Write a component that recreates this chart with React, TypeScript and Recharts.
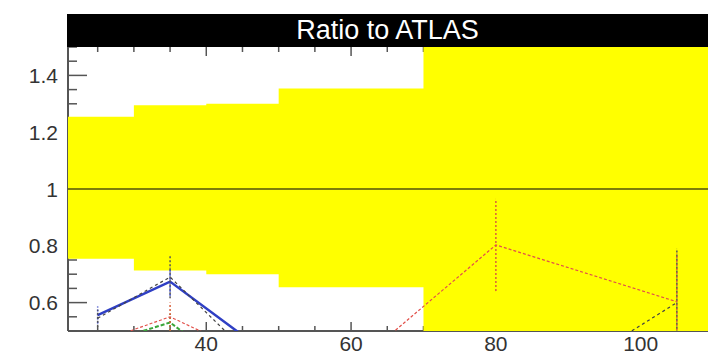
import React from 'react';
import { ComposedChart, Area, Line, XAxis, YAxis, ReferenceLine, ErrorBar } from 'recharts';

// ATLAS uncertainty band, one entry per bin
const binEdges = [20, 30, 40, 50, 70, 110];
const bandLow = [0.754, 0.713, 0.7, 0.654, 0.4];
const bandHigh = [1.254, 1.295, 1.3, 1.354, 1.6];

// model ratios at bin centres
const xPoints = [25, 35, 45, 60, 80, 105];
const blueValues = [0.556, 0.674, 0.485, 0.3, 0.2, 0.2];
const blueErrors = [0.03, 0.05, 0.01, 0.02, 0.02, 0.02];
const redValues = [0.46, 0.55, 0.43, 0.37, 0.803, 0.603];
const redErrors = [0.03, 0.05, 0.03, 0.03, 0.162, 0.17];
const greenValues = [0.45, 0.53, 0.34, 0.3, 0.3, 0.3];
const greenErrors = [0.02, 0.03, 0.02, 0.02, 0.02, 0.02];
const blackValues = [0.545, 0.69, 0.44, 0.25, 0.2, 0.6];
const blackErrors = [0.03, 0.075, 0.03, 0.03, 0.03, 0.19];

const xTicks = [25, 30, 35, 40, 45, 50, 55, 60, 65, 70, 75, 80, 85, 90, 95, 100, 105];
const yTicks = [0.5, 0.55, 0.6, 0.65, 0.7, 0.75, 0.8, 0.85, 0.9, 0.95, 1, 1.05, 1.1, 1.15, 1.2, 1.25, 1.3, 1.35, 1.4, 1.45, 1.5];
const xDomain = [20.9, 109.3];
const yDomain = [0.5, 1.5];

const W = 727;
const H = 356;
const PLOT_TOP = 47;
const PLOT_LEFT = 68;
const PLOT_RIGHT = 708;
const PLOT_BOTTOM = 331;
const FONT = '"Liberation Sans", Arial, Helvetica, sans-serif';

const bandData = binEdges.map((x, i) => {
  const j = Math.min(i, bandLow.length - 1);
  return { x, band: [bandLow[j], bandHigh[j]] };
});

const series = (vals: number[], errs: number[]) =>
  xPoints.map((x, i) => ({ x, y: vals[i], err: errs[i] }));

const XTick = (props: any) => {
  const { x, y, payload } = props;
  const v = payload.value;
  const major = v % 20 === 0;
  const len = major ? 9 : 5;
  return (
    <g>
      <line x1={x} y1={y} x2={x} y2={y - len} stroke="#555" strokeWidth={1.5} />
      <line x1={x} y1={PLOT_TOP} x2={x} y2={PLOT_TOP + len} stroke="#555" strokeWidth={1.5} />
      {major && (
        <text x={x} y={y} dy={20} textAnchor="middle" fontSize={21} fontFamily={FONT} fill="#333">
          {v}
        </text>
      )}
    </g>
  );
};

const YTick = (props: any) => {
  const { x, y, payload } = props;
  const v = payload.value;
  const major = Math.abs(v * 5 - Math.round(v * 5)) < 1e-6;
  const len = major ? 19 : 9;
  return (
    <g>
      <line x1={x} y1={y} x2={x + len} y2={y} stroke="#555" strokeWidth={1.5} />
      {major && (
        <text x={x - 10} y={y} dy="0.36em" textAnchor="end" fontSize={21} fontFamily={FONT} fill="#333">
          {String(+v.toFixed(2))}
        </text>
      )}
    </g>
  );
};

const layer: React.CSSProperties = { position: 'absolute', left: 0, top: 0 };

export default function App() {
  return (
    <div style={{ position: 'absolute', left: 0, top: 0, width: W, height: H, background: '#fff' }}>
      <svg width={0} height={0} style={{ position: 'absolute' }}>
        <defs>
          <clipPath id="plotClip" clipPathUnits="userSpaceOnUse">
            <rect x={PLOT_LEFT} y={PLOT_TOP} width={PLOT_RIGHT - PLOT_LEFT} height={PLOT_BOTTOM - PLOT_TOP} />
          </clipPath>
        </defs>
      </svg>

      {/* frame and ticks, underneath the band */}
      <div style={layer}>
        <ComposedChart width={W} height={H} margin={{ top: PLOT_TOP, right: W - PLOT_RIGHT, bottom: 0, left: 8 }}>
          <XAxis
            dataKey="x"
            type="number"
            domain={xDomain}
            allowDataOverflow
            ticks={xTicks}
            tick={<XTick />}
            tickSize={0}
            tickMargin={0}
            height={H - PLOT_BOTTOM}
            axisLine={{ stroke: '#555', strokeWidth: 2 }}
            tickLine={false}
            interval={0}
          />
          <YAxis
            type="number"
            domain={yDomain}
            allowDataOverflow
            ticks={yTicks}
            tick={<YTick />}
            tickSize={0}
            tickMargin={0}
            width={PLOT_LEFT - 8}
            axisLine={{ stroke: '#555', strokeWidth: 2 }}
            tickLine={false}
            interval={0}
          />
        </ComposedChart>
      </div>

      {/* band and model curves */}
      <div style={layer}>
        <ComposedChart
          width={W}
          height={H}
          margin={{ top: PLOT_TOP, right: W - PLOT_RIGHT, bottom: H - PLOT_BOTTOM, left: PLOT_LEFT }}
        >
          <XAxis dataKey="x" type="number" domain={xDomain} allowDataOverflow hide />
          <YAxis type="number" domain={yDomain} allowDataOverflow hide />
          <Area
            data={bandData}
            dataKey="band"
            type="stepAfter"
            fill="#ffff00"
            fillOpacity={1}
            stroke="none"
            isAnimationActive={false}
          />
          <ReferenceLine y={1} stroke="#7d7d08" strokeWidth={2} />
          <Line data={series(greenValues, greenErrors)} dataKey="y" stroke="#3aa63a" strokeWidth={2} strokeDasharray="4 2" dot={false} isAnimationActive={false}>
            <ErrorBar dataKey="err" width={0} stroke="#3aa63a" strokeDasharray="2 2" clipPath="url(#plotClip)" />
          </Line>
          <Line data={series(redValues, redErrors)} dataKey="y" stroke="#e2504a" strokeWidth={1.2} strokeDasharray="3 2" dot={false} isAnimationActive={false}>
            <ErrorBar dataKey="err" width={0} stroke="#d8603a" strokeDasharray="2 2" clipPath="url(#plotClip)" />
          </Line>
          <Line data={series(blueValues, blueErrors)} dataKey="y" stroke="#2f3fc4" strokeWidth={2.5} dot={false} isAnimationActive={false}>
            <ErrorBar dataKey="err" width={0} stroke="#2f3fc4" strokeDasharray="2 2" clipPath="url(#plotClip)" />
          </Line>
          <Line data={series(blackValues, blackErrors)} dataKey="y" stroke="#444" strokeWidth={1.2} strokeDasharray="3 3" dot={false} isAnimationActive={false}>
            <ErrorBar dataKey="err" width={0} stroke="#555" strokeDasharray="2 2" clipPath="url(#plotClip)" />
          </Line>
        </ComposedChart>
      </div>

      <div
        style={{
          position: 'absolute',
          left: 67,
          top: 14,
          width: 641,
          height: 33,
          background: '#000',
          color: '#fff',
          fontFamily: FONT,
          fontSize: 27,
          lineHeight: '33px',
          textAlign: 'center',
        }}
      >
        Ratio to ATLAS
      </div>
    </div>
  );
}
